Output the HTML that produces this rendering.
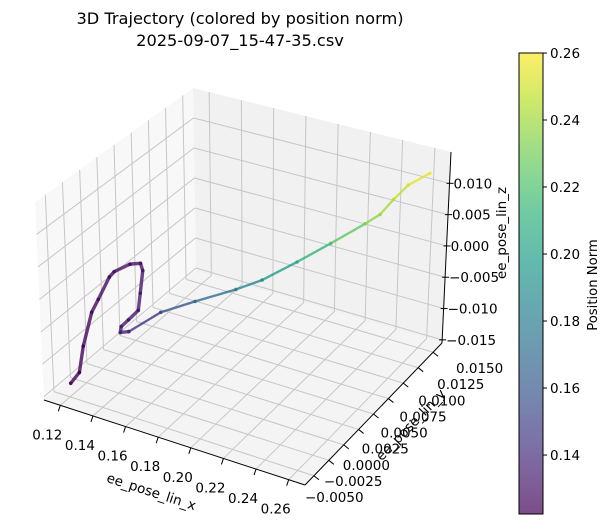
<!DOCTYPE html>
<html><head><meta charset="utf-8">
<style>
body{margin:0;background:#fff;}
svg text{font-family:"DejaVu Sans","Liberation Sans",sans-serif;fill:#000;}
</style></head>
<body>
<svg id="chart" width="611" height="527" viewBox="0 0 611 527" xmlns="http://www.w3.org/2000/svg">
<text x="240" y="24" font-size="16.2" text-anchor="middle">3D Trajectory (colored by position norm)</text>
<text x="240" y="46" font-size="16.2" text-anchor="middle">2025-09-07_15-47-35.csv</text>
<g id="panes"></g>
<g id="grid"></g>
<g id="axes"></g>
<g id="marks"></g>
<g id="cbar"></g>
<text font-size="13.5" text-anchor="middle" transform="translate(150,496) rotate(18)">ee_pose_lin_x</text>
<text font-size="13.5" text-anchor="middle" transform="translate(414,428) rotate(-46)">ee_pose_lin_y</text>
<text font-size="13.5" text-anchor="middle" transform="translate(506,233) rotate(-90)">ee_pose_lin_z</text>
<text font-size="13.2" text-anchor="middle" transform="translate(597,285) rotate(-90)">Position Norm</text>
</svg>
<script>
// ---- data ----
const xs = [0.122,0.123,0.124,0.125,0.126,0.127,0.128,0.129,0.130,0.130,0.131,0.132,0.132,0.132,0.133,0.135,0.150,0.165,0.180,0.190,0.205,0.218,0.232,0.238,0.245,0.251,0.258];
const ys = [-0.0053,-0.0042,-0.0037,-0.0025,-0.0017,-0.0002,0.0003,0.0024,0.0037,0.0040,0.0033,0.0027,0.0012,0.0001,-0.0003,0.0005,0.0018,0.0034,0.0060,0.0076,0.0093,0.0113,0.0131,0.0139,0.0142,0.0149,0.0164];
const zs = [-0.0130,-0.0122,-0.0085,-0.0042,-0.0028,-0.0005,0.0000,-0.0005,-0.0014,-0.0028,-0.0057,-0.0078,-0.0080,-0.0081,-0.0086,-0.0090,-0.0060,-0.0046,-0.0039,-0.0031,-0.0007,0.0014,0.0039,0.0051,0.0077,0.0098,0.0109];
const xTicks = [0.12,0.14,0.16,0.18,0.20,0.22,0.24,0.26];
const xTickLabels = ["0.12","0.14","0.16","0.18","0.20","0.22","0.24","0.26"];
const yTicks = [-0.005,-0.0025,0,0.0025,0.005,0.0075,0.01,0.0125,0.015];
const yTickLabels = ["\u22120.0050","\u22120.0025","0.0000","0.0025","0.0050","0.0075","0.0100","0.0125","0.0150"];
const zTicks = [-0.015,-0.010,-0.005,0,0.005,0.010];
const zTickLabels = ["\u22120.015","\u22120.010","\u22120.005","0.000","0.005","0.010"];
const cTicks = [0.14,0.16,0.18,0.20,0.22,0.24,0.26];
const cTickLabels = ["0.14","0.16","0.18","0.20","0.22","0.24","0.26"];

const XR=[0.110,0.270], YR=[-0.0065,0.0165], ZR=[-0.0155,0.0150], CR=[0.1224,0.26];
const F00=[44,400],F10=[305,485],F11=[442,343],F01=[196,271];
const T00=[35,202],T10=[293,266],T11=[451,152],T01=[193,88];
function bil(a,b,c,d,u,v,i){return (1-u)*(1-v)*a[i]+u*(1-v)*b[i]+u*v*c[i]+(1-u)*v*d[i];}
function proj(x,y,z){
  const u=(x-XR[0])/(XR[1]-XR[0]), v=(y-YR[0])/(YR[1]-YR[0]), w=(z-ZR[0])/(ZR[1]-ZR[0]);
  const f=[bil(F00,F10,F11,F01,u,v,0),bil(F00,F10,F11,F01,u,v,1)];
  const t=[bil(T00,T10,T11,T01,u,v,0),bil(T00,T10,T11,T01,u,v,1)];
  return [(1-w)*f[0]+w*t[0],(1-w)*f[1]+w*t[1]];
}
const NS="http://www.w3.org/2000/svg";
function mk(tag,attrs,parent){const e=document.createElementNS(NS,tag);for(const k in attrs)e.setAttribute(k,attrs[k]);parent.appendChild(e);return e;}
const vir=[[68,1,84],[72,40,120],[62,74,137],[49,104,142],[38,130,142],[31,158,137],[53,183,121],[109,205,89],[180,222,44],[253,231,37]];
function viridis(t){t=Math.max(0,Math.min(1,t));const s=t*(vir.length-1),i=Math.min(vir.length-2,Math.floor(s)),f=s-i;
  const c=vir[i].map((a,k)=>Math.round(a+(vir[i+1][k]-a)*f));return `rgb(${c[0]},${c[1]},${c[2]})`;}
function pts(arr){return arr.map(p=>p[0].toFixed(1)+","+p[1].toFixed(1)).join(" ");}

// panes
const panes=document.getElementById('panes');
let p;
p=mk('polygon',{points:pts([proj(XR[0],YR[0],ZR[0]),proj(XR[0],YR[1],ZR[0]),proj(XR[0],YR[1],ZR[1]),proj(XR[0],YR[0],ZR[1])]),fill:'#f8f8f8'},panes);


p=mk('polygon',{points:pts([proj(XR[0],YR[1],ZR[0]),proj(XR[1],YR[1],ZR[0]),proj(XR[1],YR[1],ZR[1]),proj(XR[0],YR[1],ZR[1])]),fill:'#f1f1f1'},panes);


p=mk('polygon',{points:pts([proj(XR[0],YR[0],ZR[0]),proj(XR[1],YR[0],ZR[0]),proj(XR[1],YR[1],ZR[0]),proj(XR[0],YR[1],ZR[0])]),fill:'#f4f4f4'},panes);



// grid
const grid=document.getElementById('grid');
function gl(a,b,name){const l=mk('line',{x1:a[0],y1:a[1],x2:b[0],y2:b[1],stroke:'#c6c6c6','stroke-width':1},grid);
  
  }
xTicks.forEach(x=>{gl(proj(x,YR[0],ZR[0]),proj(x,YR[1],ZR[0]),'x-gridline');gl(proj(x,YR[1],ZR[0]),proj(x,YR[1],ZR[1]),'x-gridline');});
yTicks.forEach(y=>{gl(proj(XR[0],y,ZR[0]),proj(XR[1],y,ZR[0]),'y-gridline');gl(proj(XR[0],y,ZR[0]),proj(XR[0],y,ZR[1]),'y-gridline');});
zTicks.forEach(z=>{gl(proj(XR[0],YR[0],z),proj(XR[0],YR[1],z),'z-gridline');gl(proj(XR[0],YR[1],z),proj(XR[1],YR[1],z),'z-gridline');});

// axes
const axes=document.getElementById('axes');
function al(a,b,name){const l=mk('line',{x1:a[0],y1:a[1],x2:b[0],y2:b[1],stroke:'#000','stroke-width':1},axes);
  
  }
al(proj(XR[0],YR[0],ZR[0]),proj(XR[1],YR[0],ZR[0]),'x-axis-line');
al(proj(XR[1],YR[0],ZR[0]),proj(XR[1],YR[1],ZR[0]),'y-axis-line');
al(proj(XR[1],YR[1],ZR[0]),proj(XR[1],YR[1],ZR[1]),'z-axis-line');
function tl(x,y,txt,anchor,name){const t=mk('text',{x:x,y:y,'font-size':13.5,'text-anchor':anchor},axes);t.textContent=txt;
  
  }
xTicks.forEach((x,i)=>{const a=proj(x,YR[0],ZR[0]);al(a,[a[0]-2,a[1]+6],'x-tick');tl(a[0]-13,a[1]+34,xTickLabels[i],'middle','x-tick-label');});
yTicks.forEach((y,i)=>{const a=proj(XR[1],y,ZR[0]);al(a,[a[0]+5,a[1]+4],'y-tick');
  const f=i/(yTicks.length-1);tl(305+151*f,502-129*f,yTickLabels[i],'start','y-tick-label');});
zTicks.forEach((z,i)=>{const a=proj(XR[1],YR[1],z);al([a[0]-3,a[1]],[a[0]+4,a[1]],'z-tick');tl(a[0]+4,a[1]+5,zTickLabels[i],'start','z-tick-label');});

// trajectory
const marks=document.getElementById('marks');
const P=xs.map((x,i)=>proj(x,ys[i],zs[i]));
const N=xs.map((x,i)=>Math.sqrt(x*x+ys[i]*ys[i]+zs[i]*zs[i]));
for(let i=0;i<P.length-1;i++){
  const t=((N[i]+N[i+1])/2-CR[0])/(CR[1]-CR[0]);
  const thick = t<0.12?3.4:2.4;
  const l=mk('line',{x1:P[i][0],y1:P[i][1],x2:P[i+1][0],y2:P[i+1][1],stroke:viridis(t),'stroke-opacity':0.8,'stroke-width':thick,'stroke-linecap':'round','stroke-dasharray':t<0.12?'':'2 1.2'},marks);
  
  
}
P.forEach((q,i)=>{const c=mk('circle',{cx:q[0],cy:q[1],r:1.8,fill:viridis((N[i]-CR[0])/(CR[1]-CR[0])),'fill-opacity':0.8},marks);
  
  });

// colorbar
const cb=document.getElementById('cbar');
const CB={x:519,y0:53,y1:514,w:24};
function cy(v){return CB.y1-(v-CR[0])/(CR[1]-CR[0])*(CB.y1-CB.y0);}
const defs=mk('defs',{},cb);
const lg=mk('linearGradient',{id:'vg',x1:0,y1:1,x2:0,y2:0},defs);
for(let i=0;i<=20;i++){mk('stop',{offset:i/20,'stop-color':viridis(i/20),'stop-opacity':0.7},lg);}
let r=mk('rect',{x:CB.x,y:CB.y0,width:CB.w,height:CB.y1-CB.y0,fill:'url(#vg)',stroke:'#000','stroke-width':1},cb);


cTicks.forEach((v,i)=>{const y=cy(v);
  const l=mk('line',{x1:CB.x+CB.w,y1:y,x2:CB.x+CB.w+4,y2:y,stroke:'#000'},cb);
  
  
  const t=mk('text',{x:CB.x+CB.w+7,y:y+5,'font-size':13.5},cb);t.textContent=cTickLabels[i];
  
  });
</script>
</body></html>
